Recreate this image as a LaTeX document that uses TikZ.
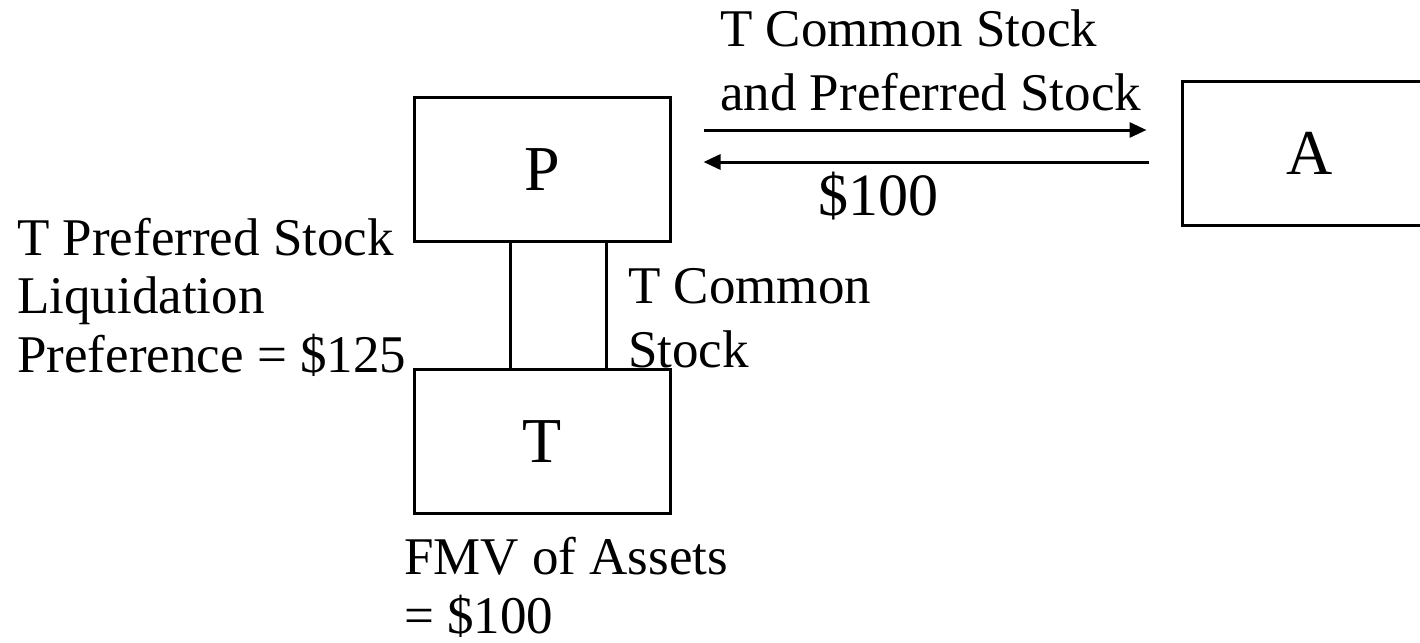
\documentclass[tikz,border=0pt]{standalone}
\usepackage{fontspec}
\setmainfont{Liberation Serif}
\usetikzlibrary{arrows.meta}
\begin{document}
\begin{tikzpicture}[x=1pt,y=-1pt,
  entity/.style={draw,line width=3pt,minimum width=256pt,minimum height=144pt,inner sep=0pt,font=\fontsize{64}{70}\selectfont},
  lbl/.style={inner sep=0pt,anchor=base west,align=left},
  flow/.style={line width=3pt,-{Triangle[length=17pt,width=15pt]}},
  link/.style={line width=3pt}]
\useasboundingbox (0,0) rectangle (1420,642);
\node[entity] (P) at (542,169.5) {P};
\node[entity] (T) at (542,441.5) {T};
\node[entity] (A) at (1310,153.5) {A};
\coordinate (c1) at (0,130);
\coordinate (c2) at (0,162);
\draw[flow,shorten <=32pt,shorten >=34pt] (P.east |- c1) -- (A.west |- c1);
\draw[flow,shorten <=32pt,shorten >=32pt] (A.west |- c2) -- (P.east |- c2);
\draw[link] ([xshift=-32pt]P.south) -- ([xshift=-32pt]T.north);
\draw[link] ([xshift=64pt]P.south) -- ([xshift=64pt]T.north);
\node[lbl,font=\fontsize{53}{63}\selectfont] (top) at (720,110) {T Common Stock\\and Preferred Stock};
\node[inner sep=0pt,anchor=base,font=\fontsize{60}{66}\selectfont] (pay) at (878,215) {\$100};
\node[lbl,font=\fontsize{53}{58.5}\selectfont] (left) at (17,372) {T Preferred Stock\\Liquidation\\Preference = \$125};
\node[lbl,font=\fontsize{53}{64}\selectfont] (right) at (628,367) {T Common\\Stock};
\node[lbl,font=\fontsize{53}{59}\selectfont] (fmv) at (404,633) {FMV of Assets\\= \$100};
\end{tikzpicture}
\end{document}
